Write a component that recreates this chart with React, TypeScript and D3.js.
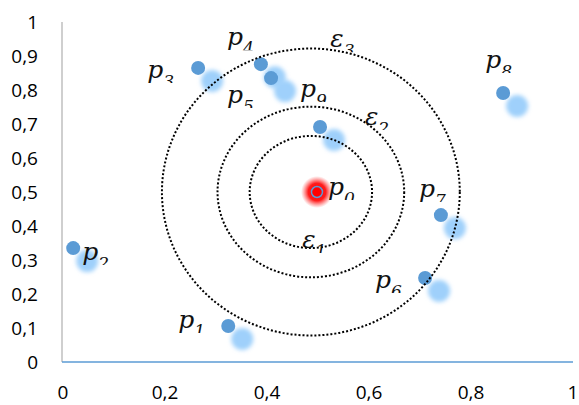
import React from 'react';
import * as d3 from 'd3';

// axis ticks
const xTicks = [0, 0.2, 0.4, 0.6, 0.8, 1];
const yTicks = [0, 0.1, 0.2, 0.3, 0.4, 0.5, 0.6, 0.7, 0.8, 0.9, 1];

// neighbour points p1..p9
const pointIds = [1, 2, 3, 4, 5, 6, 7, 8, 9];
const pointX = [0.324, 0.02, 0.265, 0.388, 0.408, 0.71, 0.741, 0.863, 0.504];
const pointY = [0.106, 0.335, 0.865, 0.876, 0.835, 0.247, 0.432, 0.791, 0.691];

// query point p0
const queryX = 0.498;
const queryY = 0.5;

// epsilon rings
const ringIds = [1, 2, 3];
const ringCenter = [0.486, 0.5];
const ringRx = [0.12, 0.183, 0.292];
const ringRy = [0.165, 0.251, 0.422];
const ringLabelX = [0.469, 0.592, 0.524];
const ringLabelY = [0.335, 0.697, 0.926];

// label offsets (px) from each point
const labelDx = [-50, 9, -51, -34, -44, -50, -22, -18, -20];
const labelDy = [2, 12, 10, -19, 25, 10, -18, -25, -30];

const W = 579, H = 405;
const x = d3.scaleLinear().domain([0, 1]).range([63, 573]);
const y = d3.scaleLinear().domain([0, 1]).range([362, 22]);

const fmt = d3.formatLocale({ decimal: ',', thousands: '.', grouping: [3], currency: ['', ''] }).format('~g');

const BLUE = '#5b9bd5';
const SHADOW = '#9fd0fb';

// italic math style label, clipped just under the baseline like the original text boxes
const MathLabel = ({ sym, sub, lx, ly, id }: { sym: string; sub: number; lx: number; ly: number; id: string }) => (
  <g clipPath={`url(#${id})`}>
    <clipPath id={id}>
      <rect x={lx - 4} y={ly - 30} width={50} height={35} />
    </clipPath>
    <text x={lx} y={ly} fontFamily="DejaVu Serif" fontStyle="italic" fontSize={25} fill="#111">
      {sym}
      <tspan fontSize={17} dy={9}>{sub}</tspan>
    </text>
  </g>
);

const App = () => {
  const [cx, cy] = ringCenter;
  return (
    <svg width={W} height={H} style={{ position: 'absolute', left: 0, top: 0, background: '#fff' }}>
      <defs>
        <filter id="blur" x="-50%" y="-50%" width="200%" height="200%">
          <feGaussianBlur stdDeviation={2.2} />
        </filter>
        <radialGradient id="glow">
          <stop offset="0%" stopColor="#ff0000" stopOpacity={1} />
          <stop offset="55%" stopColor="#ff1010" stopOpacity={0.95} />
          <stop offset="100%" stopColor="#ff5050" stopOpacity={0} />
        </radialGradient>
      </defs>

      {/* y axis */}
      <line x1={62} x2={62} y1={y(1)} y2={y(0)} stroke="#bfbfbf" strokeWidth={1.5} />
      {yTicks.map(t => (
        <text key={t} x={38} y={y(t)} dy="0.35em" textAnchor="end" fontFamily="Open Sans" fontSize={19} fill="#000">
          {fmt(t)}
        </text>
      ))}

      {/* x axis */}
      <line x1={62} x2={x(1)} y1={y(0)} y2={y(0)} stroke={BLUE} strokeWidth={1.5} />
      {xTicks.map(t => (
        <text key={t} x={x(t)} y={399} textAnchor="middle" fontFamily="Open Sans" fontSize={19} fill="#000">
          {fmt(t)}
        </text>
      ))}

      {/* soft shadows */}
      {pointIds.map((id, i) => (
        <circle key={'s' + id} cx={x(pointX[i]) + 14} cy={y(pointY[i]) + 13} r={11} fill={SHADOW} filter="url(#blur)" />
      ))}

      {/* points */}
      {pointIds.map((id, i) => (
        <circle key={'p' + id} cx={x(pointX[i])} cy={y(pointY[i])} r={7} fill={BLUE} />
      ))}

      {/* query point */}
      <circle cx={x(queryX)} cy={y(queryY)} r={16} fill="url(#glow)" />
      <circle cx={x(queryX)} cy={y(queryY)} r={5.5} fill="#ff0000" stroke={BLUE} strokeWidth={1.5} />

      {/* epsilon rings */}
      {ringIds.map((id, i) => (
        <ellipse
          key={'r' + id}
          cx={x(cx)}
          cy={y(cy)}
          rx={x(ringRx[i]) - x(0)}
          ry={y(0) - y(ringRy[i])}
          fill="none"
          stroke="#000"
          strokeWidth={2}
          strokeDasharray="2 2"
        />
      ))}

      {/* labels */}
      {pointIds.map((id, i) => (
        <MathLabel key={'l' + id} id={'clp' + id} sym="p" sub={id}
          lx={x(pointX[i]) + labelDx[i]} ly={y(pointY[i]) + labelDy[i]} />
      ))}
      <MathLabel id="clp0" sym="p" sub={0} lx={x(queryX) + 11} ly={y(queryY) + 3} />
      {ringIds.map((id, i) => (
        <MathLabel key={'e' + id} id={'cle' + id} sym="ε" sub={id} lx={x(ringLabelX[i])} ly={y(ringLabelY[i])} />
      ))}
    </svg>
  );
};

export default App;
